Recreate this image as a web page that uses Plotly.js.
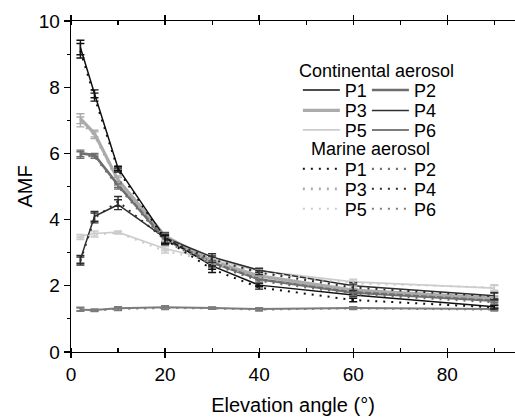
<!DOCTYPE html>
<html>
<head>
<meta charset="utf-8">
<script src="https://cdn.plot.ly/plotly-3.0.1.min.js"></script>
<style>html,body{margin:0;padding:0;background:#fff;}#chart{width:515px;height:419px;}</style>
</head>
<body>
<div id="chart"></div>
<script>
// Elevation angles (degrees)
const elevation = [2, 5, 10, 20, 30, 40, 60, 90];

// Continental aerosol AMF (solid lines)
const contP1 = [9.2, 7.8, 5.55, 3.45, 2.6, 2.02, 1.72, 1.37];
const contP2 = [6.0, 5.95, 5.05, 3.4, 2.7, 2.2, 1.8, 1.55];
const contP3 = [7.05, 6.6, 5.2, 3.5, 2.75, 2.3, 1.87, 1.63];
const contP4 = [2.8, 4.1, 4.45, 3.45, 2.87, 2.47, 2.0, 1.7];
const contP5 = [3.5, 3.58, 3.62, 3.12, 2.8, 2.45, 2.12, 1.93];
const contP6 = [1.28, 1.27, 1.32, 1.35, 1.33, 1.3, 1.33, 1.3];

// Marine aerosol AMF (dotted lines)
const marP1 = [9.1, 7.7, 5.5, 3.4, 2.5, 1.95, 1.57, 1.35];
const marP2 = [5.95, 5.9, 5.0, 3.35, 2.65, 2.15, 1.75, 1.5];
const marP3 = [6.95, 6.55, 5.15, 3.45, 2.7, 2.25, 1.85, 1.6];
const marP4 = [2.75, 4.05, 4.55, 3.4, 2.8, 2.4, 1.95, 1.68];
const marP5 = [3.45, 3.55, 3.6, 3.05, 2.75, 2.42, 2.07, 1.95];
const marP6 = [1.3, 1.25, 1.3, 1.33, 1.32, 1.28, 1.32, 1.28];

// Error bar half-widths
const errP1 = [0.22, 0.12, 0.06, 0.12, 0.1, 0.05, 0.05, 0.05];
const errP2 = [0.1, 0.05, 0.08, 0.12, 0.1, 0.05, 0.05, 0.05];
const errP3 = [0.15, 0.1, 0.12, 0.12, 0.1, 0.06, 0.06, 0.06];
const errP4 = [0.12, 0.15, 0.15, 0.15, 0.1, 0.06, 0.1, 0.1];
const errP5 = [0.05, 0.08, 0.04, 0.06, 0.06, 0.06, 0.08, 0.08];
const errP6 = [0.05, 0.03, 0.05, 0.05, 0.03, 0.04, 0.04, 0.04];

const profileNames = ['P1', 'P2', 'P3', 'P4', 'P5', 'P6'];
const contSeries = [contP1, contP2, contP3, contP4, contP5, contP6];
const marSeries = [marP1, marP2, marP3, marP4, marP5, marP6];
const errSeries = [errP1, errP2, errP3, errP4, errP5, errP6];

const colors = ['#111111', '#6e6e6e', '#ababab', '#2e2e2e', '#cccccc', '#7c7c7c'];
const widths = [1.5, 2.6, 3.2, 1.5, 1.6, 2.0];
const drawOrder = [5, 4, 2, 1, 3, 0];

// legend layout (pixel positions of each row)
const W = 515, H = 419;
const mL = 71.3, mR = 0, mT = 20.7, mB = 67;
const pw = W - mL - mR, ph = H - mT - mB;
const px2x = p => (p - mL) / pw;
const py2y = p => (H - mB - p) / ph;
const colX = [298, 367];
const contRows = [90, 110.5, 130];
const marRows = [169, 189, 209];

const traces = [];
const legends = {};
let li = 1;
function legendKey() { const k = li === 1 ? 'legend' : 'legend' + li; li++; return k; }

[['cont', contSeries, 'solid', contRows], ['mar', marSeries, '2px,6px', marRows]].forEach(([kind, series, dash, rows]) => {
  drawOrder.forEach(i => {
    const key = legendKey();
    const col = i % 2, row = Math.floor(i / 2);
    legends[key] = {
      x: px2x(colX[col]), y: py2y(rows[row]), xanchor: 'left', yanchor: 'middle',
      bgcolor: 'rgba(0,0,0,0)', borderwidth: 0, itemwidth: 37,
      font: {family: 'Liberation Sans, Arial, sans-serif', size: 18, color: '#000'}
    };
    traces.push({
      x: elevation, y: series[i], type: 'scatter', mode: 'lines',
      name: profileNames[i], legend: key,
      line: {color: colors[i], width: kind === 'cont' ? widths[i] : Math.max(2, widths[i] * 0.8), dash: dash},
      error_y: {type: 'data', array: errSeries[i], visible: true, color: colors[i], thickness: 1.4, width: 4}
    });
  });
});

const layout = Object.assign({
  width: W, height: H,
  margin: {l: mL, r: mR, t: mT, b: mB},
  paper_bgcolor: '#fff', plot_bgcolor: '#fff',
  font: {family: 'Liberation Sans, Arial, sans-serif', size: 19, color: '#000'},
  showlegend: true,
  xaxis: {
    range: [0, 94.4], showgrid: false, zeroline: false,
    showline: true, linecolor: '#000', linewidth: 1.3, mirror: 'ticks',
    ticks: 'outside', ticklen: 5, tickwidth: 1.3, tickcolor: '#000', dtick: 20, tick0: 0,
    minor: {ticks: 'inside', ticklen: 4, dtick: 10, tickwidth: 1.2, tickcolor: '#000'},
    tickfont: {size: 19},
    title: {text: 'Elevation angle (°)', font: {size: 20}, standoff: 14}
  },
  yaxis: {
    range: [0, 10], showgrid: false, zeroline: false,
    showline: true, linecolor: '#000', linewidth: 1.3, mirror: false,
    ticks: 'outside', ticklen: 6, tickwidth: 1.3, tickcolor: '#000', dtick: 2, tick0: 0,
    minor: {ticks: 'outside', ticklen: 3, dtick: 1, tickwidth: 1.2, tickcolor: '#000'},
    tickfont: {size: 19},
    title: {text: 'AMF', font: {size: 20}, standoff: 0}
  },
  annotations: [
    {text: 'Continental aerosol', xref: 'paper', yref: 'paper', x: px2x(297), y: py2y(70.7),
     xanchor: 'left', yanchor: 'middle', showarrow: false, font: {size: 18}},
    {text: 'Marine aerosol', xref: 'paper', yref: 'paper', x: px2x(309), y: py2y(149.3),
     xanchor: 'left', yanchor: 'middle', showarrow: false, font: {size: 18}}
  ]
}, legends);

Plotly.newPlot('chart', traces, layout, {staticPlot: true, displayModeBar: false});
</script>
</body>
</html>
